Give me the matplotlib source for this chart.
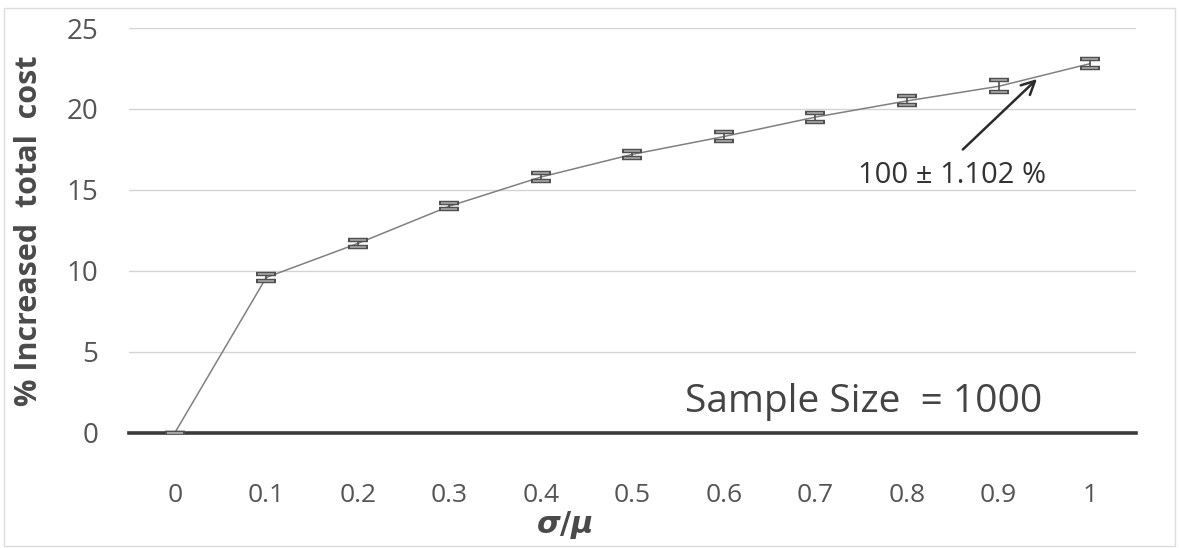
import matplotlib
matplotlib.use("Agg")
import matplotlib.pyplot as plt
from matplotlib.patches import Rectangle

# data
cv_labels = ["0", "0.1", "0.2", "0.3", "0.4", "0.5", "0.6", "0.7", "0.8", "0.9", "1"]
increase = [0.0, 9.6, 11.7, 14.0, 15.8, 17.2, 18.3, 19.5, 20.5, 21.4, 22.8]
err = [0.0, 0.22, 0.22, 0.2, 0.22, 0.22, 0.25, 0.28, 0.28, 0.38, 0.3]
y_ticks = [0, 5, 10, 15, 20, 25]

FONT = ["Open Sans", "DejaVu Sans"]
TXT = "#555555"

fig = plt.figure(figsize=(11.79, 5.48), dpi=100)
ax = fig.add_axes([0.1094, 0.2099, 0.854, 0.739])
x = list(range(len(cv_labels)))

for yv in y_ticks[1:]:
    ax.axhline(yv, color="#d4d4d4", lw=1.0, zorder=0)
ax.axhline(0, color="#3a3a3a", lw=2.6, zorder=1, clip_on=False)

ax.plot(x, increase, color="#808080", lw=1.1, zorder=2)
ax.errorbar(x, increase, yerr=err, fmt="none", ecolor="#505050",
            elinewidth=1.2, capsize=7, capthick=3.2, zorder=3)
ax.errorbar(x, increase, yerr=err, fmt="none", ecolor="#a8a8a8",
            elinewidth=0, capsize=6, capthick=1.2, zorder=4)

ax.set_xlim(-0.5, len(cv_labels) - 0.5)
ax.set_ylim(0, 25)
ax.set_xticks(x)
ax.set_xticklabels(cv_labels)
ax.set_yticks(y_ticks)
ax.tick_params(axis="x", length=0, pad=36, labelsize=19, labelcolor=TXT)
ax.tick_params(axis="y", length=0, pad=22, labelsize=20, labelcolor=TXT)
for lab in ax.get_xticklabels() + ax.get_yticklabels():
    lab.set_family(FONT)
for s in ax.spines.values():
    s.set_visible(False)

ax.set_ylabel("% Increased  total  cost", fontsize=22, fontweight="bold",
              color="#4a4a4a", family=FONT, labelpad=16)
fig.text(0.479, 0.042, r"$\boldsymbol{\sigma/\mu}$", ha="center", va="center",
         fontsize=22, color="#4a4a4a")

ax.text(9.48, 1.9, "Sample Size  = 1000", ha="right", va="center",
        fontsize=28, color="#444444", family=FONT)

ax.annotate("", xy=(9.42, 21.85), xytext=(8.61, 17.5),
            arrowprops=dict(arrowstyle="->", lw=1.8, color="#2a2a2a",
                            mutation_scale=24, shrinkA=0, shrinkB=0))
ax.text(8.49, 15.9, "100 ± 1.102 %", ha="center", va="center",
        fontsize=21, color="#333333", family=FONT)

fig.add_artist(Rectangle((0.003, 0.003), 0.994, 0.982, transform=fig.transFigure,
                         fill=False, ec="#dddddd", lw=1.0))

fig.savefig("out.png", dpi=100, facecolor="white")
